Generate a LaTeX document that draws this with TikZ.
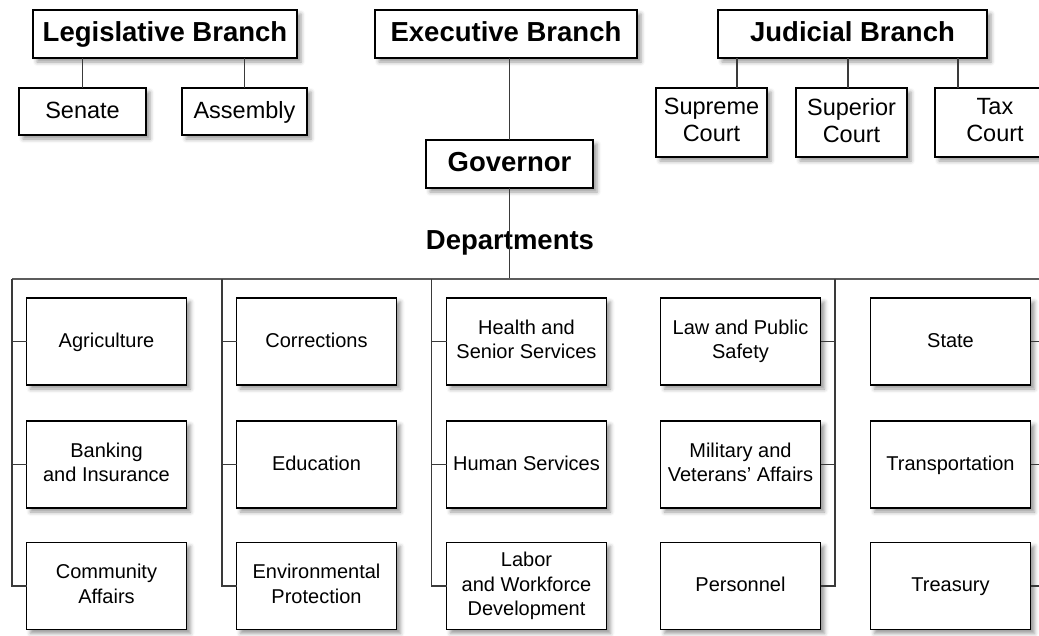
\documentclass[tikz,border=0pt]{standalone}
\usepackage{fontspec}
\setmainfont{Liberation Sans}
\usetikzlibrary{shadows.blur}
\definecolor{OCline}{HTML}{3a3a3a}
\definecolor{OCbus}{HTML}{5c5c5c}
\begin{document}
\begin{tikzpicture}[y=1pt, x=1pt, yscale=-1, inner sep=0pt, outer sep=0pt,
  box/.style={draw=black, fill=white, line width=1.8pt, align=center,
    blur shadow={shadow xshift=4pt, shadow yshift=-4pt, shadow blur radius=4pt}},
  branch/.style={box, font=\fontsize{27.5}{30}\selectfont\bfseries,
    execute at begin node={\rule[-5.8pt]{0pt}{27.5pt}},
    execute at end node={\rule[-5.8pt]{0pt}{27.5pt}}},
  unit/.style={box, font=\fontsize{23.5}{27}\selectfont,
    execute at begin node={\rule[-5pt]{0pt}{23.3pt}},
    execute at end node={\rule[-5pt]{0pt}{23.3pt}}},
  dept/.style={box, minimum width=160pt, minimum height=87pt,
    font=\fontsize{20}{24.5}\selectfont,
    execute at begin node={\rule[-4.3pt]{0pt}{20.1pt}},
    execute at end node={\rule[-4.3pt]{0pt}{20.1pt}}},
  link/.style={draw=OCline, line width=1.4pt},
  bus/.style={draw=OCbus, line width=1.8pt}]
  \useasboundingbox (0,0) rectangle (1039,635);
  \node[branch, minimum width=264pt, minimum height=48pt] (leg) at (165,34) {Legislative Branch};
  \node[branch, minimum width=262pt, minimum height=48pt] (exe) at (506,34) {Executive Branch};
  \node[branch, minimum width=269pt, minimum height=48pt] (jud) at (852.5,34) {Judicial Branch};
  \node[unit, minimum width=127pt, minimum height=47pt] (senate) at (82.5,111.5) {Senate};
  \node[unit, minimum width=125pt, minimum height=47pt] (assembly) at (244.5,111.5) {Assembly};
  \node[unit, minimum width=111pt, minimum height=69pt] (supreme) at (711.5,122.5) {Supreme\\Court};
  \node[unit, minimum width=111pt, minimum height=69pt] (superior) at (851.5,122.5) {Superior\\Court};
  \node[unit, minimum width=120pt, minimum height=69pt] (tax) at (995,122.5) {Tax\\Court};
  \node[branch, minimum width=167pt, minimum height=48pt] (gov) at (509.5,164) {Governor};
  \node[font=\fontsize{27.5}{30}\selectfont\bfseries] (depts) at (510,243) {Departments};
  \coordinate (jt1) at (737,0);
  \coordinate (jt2) at (848,0);
  \coordinate (jt3) at (958,0);
  \coordinate (busL) at (12,279);
  \coordinate (c2) at (222,279);
  \coordinate (c3) at (431.5,279);
  \coordinate (c4) at (835,279);
  \coordinate (busR) at (1045,279);
  \node[dept] (agri) at (106.5,341.5) {Agriculture};
  \node[dept] (bank) at (106.5,464.5) {Banking\\and Insurance};
  \node[dept] (comm) at (106.5,586) {Community\\Affairs};
  \node[dept] (corr) at (316.5,341.5) {Corrections};
  \node[dept] (educ) at (316.5,464.5) {Education};
  \node[dept] (envp) at (316.5,586) {Environmental\\Protection};
  \node[dept] (hlth) at (526.5,341.5) {Health and\\Senior Services};
  \node[dept] (hums) at (526.5,464.5) {Human Services};
  \node[dept] (labr) at (526.5,586) {Labor\\and Workforce\\Development};
  \node[dept] (laws) at (740.5,341.5) {Law and Public\\Safety};
  \node[dept] (mili) at (740.5,464.5) {Military and\\Veterans' Affairs};
  \node[dept] (pers) at (740.5,586) {Personnel};
  \node[dept] (stat) at (950.5,341.5) {State};
  \node[dept] (trns) at (950.5,464.5) {Transportation};
  \node[dept] (tres) at (950.5,586) {Treasury};
  \draw[link] (senate.north) -- (senate.north |- leg.south);
  \draw[link] (assembly.north) -- (assembly.north |- leg.south);
  \draw[link] (jud.south -| jt1) -- (supreme.north -| jt1);
  \draw[link] (jud.south -| jt2) -- (superior.north -| jt2);
  \draw[link] (jud.south -| jt3) -- (tax.north -| jt3);
  \draw[link] (gov.north) -- (gov.north |- exe.south);
  \draw[link] (gov.south) -- (gov.south |- busL);
  \draw[bus] (busL) -- (busR);
  \draw[link] (busL) -- (busL |- comm) -- (comm.west);
  \draw[link] (busL |- agri) -- (agri.west);
  \draw[link] (busL |- bank) -- (bank.west);
  \draw[link] (c2) -- (c2 |- envp) -- (envp.west);
  \draw[link] (c2 |- corr) -- (corr.west);
  \draw[link] (c2 |- educ) -- (educ.west);
  \draw[link] (c3) -- (c3 |- labr) -- (labr.west);
  \draw[link] (c3 |- hlth) -- (hlth.west);
  \draw[link] (c3 |- hums) -- (hums.west);
  \draw[link] (c4) -- (c4 |- pers) -- (pers.east);
  \draw[link] (c4 |- laws) -- (laws.east);
  \draw[link] (c4 |- mili) -- (mili.east);
  \draw[link] (busR) -- (busR |- tres) -- (tres.east);
  \draw[link] (busR |- stat) -- (stat.east);
  \draw[link] (busR |- trns) -- (trns.east);
\end{tikzpicture}
\end{document}
